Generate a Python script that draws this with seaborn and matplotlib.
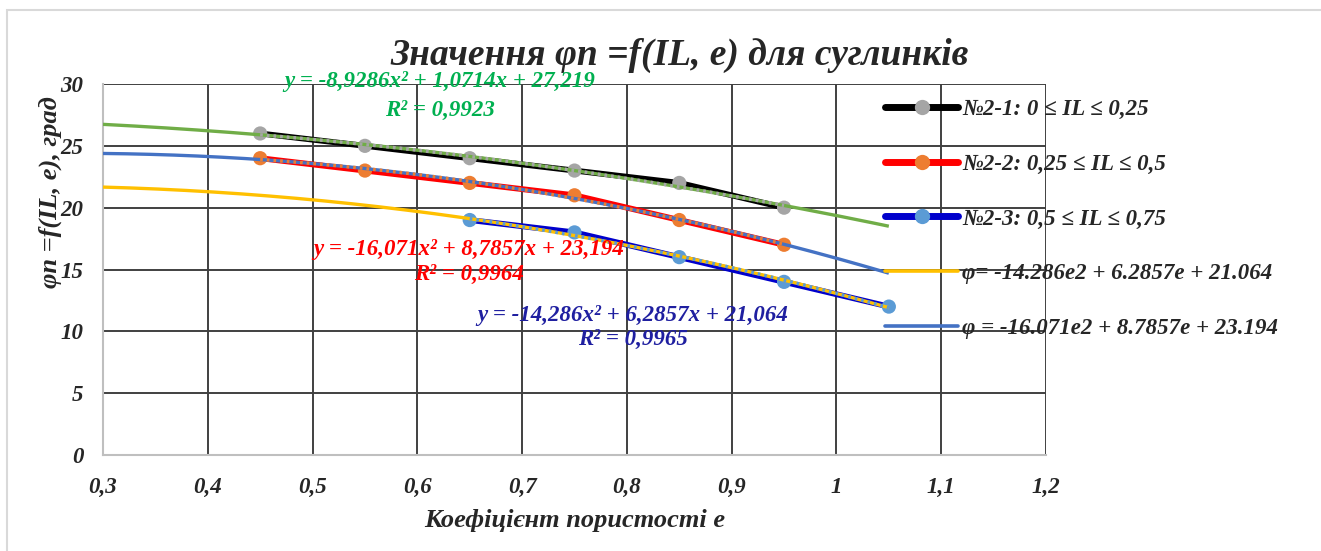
import numpy as np
import pandas as pd
import matplotlib
matplotlib.use("Agg")
import matplotlib.pyplot as plt
import seaborn as sns
from matplotlib.lines import Line2D
from matplotlib.patches import Rectangle

# Measured friction angle vs. porosity ratio for three consistency groups
e_21 = [0.45, 0.55, 0.65, 0.75, 0.85, 0.95]
phi_21 = [26, 25, 24, 23, 22, 20]
e_22 = [0.45, 0.55, 0.65, 0.75, 0.85, 0.95]
phi_22 = [24, 23, 22, 21, 19, 17]
e_23 = [0.65, 0.75, 0.85, 0.95, 1.05]
phi_23 = [19, 18, 16, 14, 12]

series_labels = ["№2-1: 0 ≤ IL ≤ 0,25", "№2-2: 0,25 ≤ IL ≤ 0,5", "№2-3: 0,5 ≤ IL ≤ 0,75"]

# Quadratic fits (a, b, c) of phi = a*e^2 + b*e + c and their R^2
fit_21 = [-8.9286, 1.0714, 27.219]
fit_22 = [-16.071, 8.7857, 23.194]
fit_23 = [-14.286, 6.2857, 21.064]
r2_21, r2_22, r2_23 = 0.9923, 0.9964, 0.9965
eq_text_21 = "y = -8,9286x² + 1,0714x + 27,219"
eq_text_22 = "y = -16,071x² + 8,7857x + 23,194"
eq_text_23 = "y = -14,286x² + 6,2857x + 21,064"
curve_labels = ["φ= -14.286e2 + 6.2857e + 21.064", "φ = -16.071e2 + 8.7857e + 23.194"]
curve_range = [0.3, 1.05]

x_ticks = [0.3, 0.4, 0.5, 0.6, 0.7, 0.8, 0.9, 1.0, 1.1, 1.2]
x_tick_labels = ["0,3", "0,4", "0,5", "0,6", "0,7", "0,8", "0,9", "1", "1,1", "1,2"]
y_ticks = [0, 5, 10, 15, 20, 25, 30]

sns.set_theme(style="white")
plt.rcParams["font.family"] = ["Liberation Serif", "DejaVu Serif"]
plt.rcParams["font.weight"] = "bold"
plt.rcParams["font.style"] = "italic"

line_cols = ["#000000", "#FF0000", "#0000CC"]
marker_cols = ["#A5A5A5", "#ED7D31", "#5B9BD5"]
green, steel, yellow = "#70AD47", "#4472C4", "#FFC000"

df = pd.concat([
    pd.DataFrame({"e": e_21, "phi": phi_21, "group": series_labels[0]}),
    pd.DataFrame({"e": e_22, "phi": phi_22, "group": series_labels[1]}),
    pd.DataFrame({"e": e_23, "phi": phi_23, "group": series_labels[2]}),
], ignore_index=True)

fig = plt.figure(figsize=(13.21, 5.51), dpi=100)
ax = fig.add_axes([103 / 1321, 1 - 455 / 551, 943 / 1321, 371 / 551])

# chart frame
fig.patches.append(Rectangle((7 / 1321, -0.05), 1.2, 1.05 - 10 / 551, transform=fig.transFigure,
                             fill=False, edgecolor="#D9D9D9", linewidth=1.5, zorder=0))

sns.lineplot(data=df, x="e", y="phi", hue="group", palette=dict(zip(series_labels, line_cols)),
             linewidth=4.2, legend=False, ax=ax, zorder=3, sort=False)
sns.scatterplot(data=df, x="e", y="phi", hue="group", palette=dict(zip(series_labels, marker_cols)),
                s=105, edgecolor="none", legend=False, ax=ax, zorder=4)


def quad(coef, x):
    return coef[0] * x ** 2 + coef[1] * x + coef[2]


e_curve = np.linspace(curve_range[0], curve_range[1], 200)
for coef, col in [(fit_21, green), (fit_22, steel), (fit_23, yellow)]:
    ax.plot(e_curve, quad(coef, e_curve), color=col, linewidth=2.4, zorder=5, solid_capstyle="butt")

# dotted fit lines over the measured span of each group
for e_vals, coef, col in [(e_21, fit_21, marker_cols[0]), (e_22, fit_22, marker_cols[1]),
                          (e_23, fit_23, marker_cols[2])]:
    xs = np.linspace(min(e_vals), max(e_vals), 100)
    ax.plot(xs, quad(coef, xs), color=col, linewidth=2.4, linestyle=(0, (0.8, 1.2)), zorder=6)

txt_kw = dict(ha="center", va="center", fontsize=16.5, fontweight="bold", fontstyle="italic", zorder=7)
ax.text(0.6215, 30.2, eq_text_21, color="#00B050", **txt_kw)
ax.text(0.6215, 27.9, f"R² = {r2_21:.4f}".replace(".", ","), color="#00B050", **txt_kw)
ax.text(0.649, 16.6, eq_text_22, color="#FF0000", **txt_kw)
ax.text(0.649, 14.6, f"R² = {r2_22:.4f}".replace(".", ","), color="#FF0000", **txt_kw)
ax.text(0.806, 11.3, eq_text_23, color="#1F1FA0", **txt_kw)
ax.text(0.806, 9.35, f"R² = {r2_23:.4f}".replace(".", ","), color="#1F1FA0", **txt_kw)

ax.set_xlim(0.3, 1.2)
ax.set_ylim(0, 30)
ax.set_xticks(x_ticks)
ax.set_xticklabels(x_tick_labels)
ax.set_yticks(y_ticks)
ax.grid(True, color="#404040", linewidth=1.4)
ax.set_axisbelow(True)
for side in ["top", "right"]:
    ax.spines[side].set_visible(False)
for side in ["left", "bottom"]:
    ax.spines[side].set_color("#BFBFBF")
    ax.spines[side].set_linewidth(1.5)
ax.tick_params(length=0, labelsize=16.5)
ax.tick_params(axis="x", pad=16)
ax.tick_params(axis="y", pad=14)
for lab in ax.get_xticklabels() + ax.get_yticklabels():
    lab.set_fontweight("bold")
    lab.set_fontstyle("italic")

ax.set_xlabel("Коефіцієнт пористості e", fontsize=19, fontweight="bold", fontstyle="italic", labelpad=8)
ax.set_ylabel("φn =f(IL, e), град", fontsize=19, fontweight="bold", fontstyle="italic")
ax.yaxis.set_label_coords(-0.043, 0.71)
ax.set_title("Значення φn =f(IL, e) для суглинків", fontsize=27, fontweight="bold",
             fontstyle="italic", x=(680 - 103) / 943, pad=14)

handles = [
    Line2D([], [], color=line_cols[i], lw=5, marker="o", markersize=11,
           markerfacecolor=marker_cols[i], markeredgecolor="none", solid_capstyle="round")
    for i in range(3)
] + [Line2D([], [], color=yellow, lw=2.6), Line2D([], [], color=steel, lw=2.6)]
leg = ax.legend(handles, series_labels + curve_labels, loc="upper left",
                bbox_to_anchor=(885 / 1321, 1 - 99 / 551), bbox_transform=fig.transFigure,
                frameon=False, borderaxespad=0, borderpad=0, handlelength=3.2, handletextpad=0.17,
                labelspacing=1.47, prop=dict(size=16.5, weight="bold", style="italic"))

fig.savefig("out.png", dpi=100)
